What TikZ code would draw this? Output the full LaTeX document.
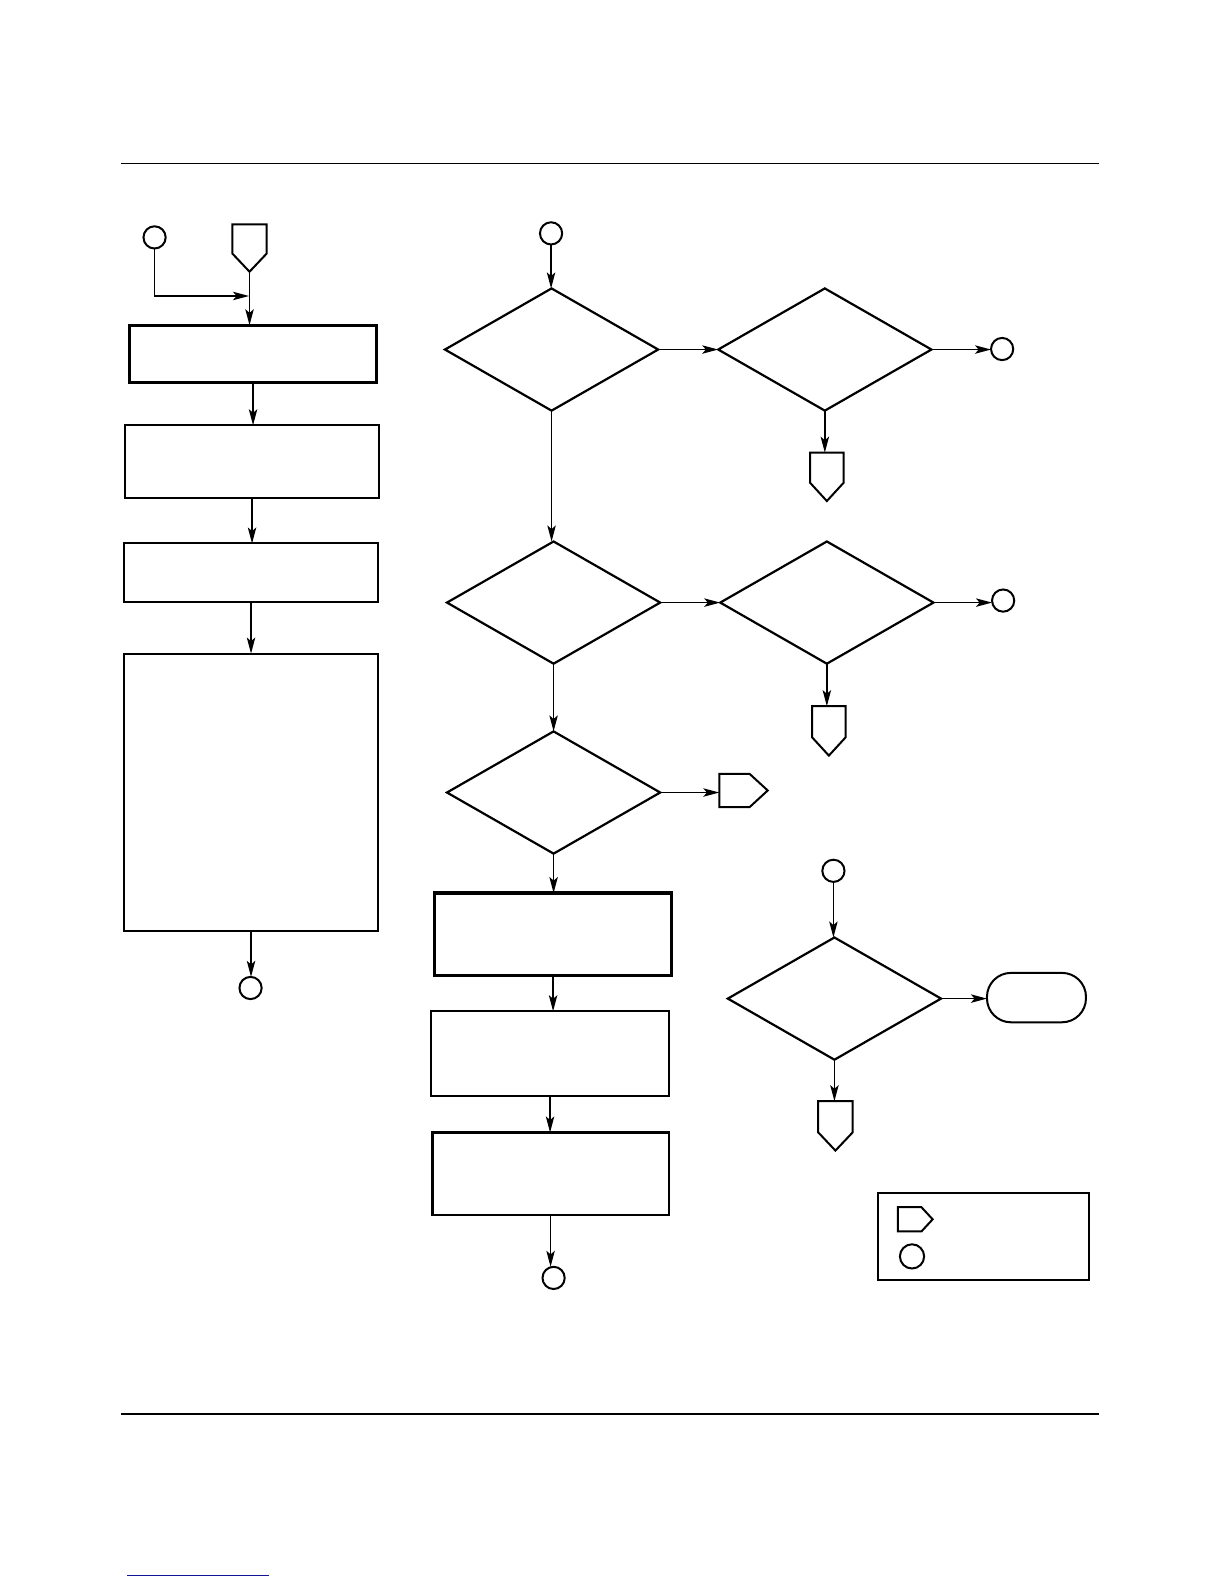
\documentclass[tikz,border=0pt]{standalone}
\usetikzlibrary{shapes.geometric,arrows.meta,calc}
\tikzset{
  x=0.505pt,y=-0.505pt,
  conn/.style={line width=0.75pt,-{Stealth[length=8pt,width=4.2pt,inset=1.8pt]}},
  plain/.style={line width=0.75pt},
  boxa/.style={draw,rectangle,line width=1pt,inner sep=0pt,outer sep=0pt},
  boxthick/.style={boxa,line width=1.6pt},
  dia/.style={draw,diamond,line width=1.1pt,inner sep=0pt,outer sep=0pt,minimum width=106.6pt,minimum height=61.1pt},
  conncirc/.style={draw,circle,line width=1pt,inner sep=0pt,outer sep=0pt,minimum size=11.1pt},
  ghost/.style={rectangle,draw=none,inner sep=0pt,outer sep=0pt},
  shp/.style={line width=1pt,line join=miter},
  term/.style={draw,rectangle,rounded corners=12pt,line width=1pt,inner sep=0pt,outer sep=0pt},
}
\newcommand{\offpagedown}[2]{\draw[shp] (#1.north west) -- (#1.north east) -- ([yshift=#2]#1.south east) -- (#1.south) -- ([yshift=#2]#1.south west) -- cycle;}
\newcommand{\offpageright}[2]{\draw[shp] (#1.north west) -- ([xshift=-#2]#1.north east) -- (#1.east) -- ([xshift=-#2]#1.south east) -- (#1.south west) -- cycle;}
\begin{document}
\begin{tikzpicture}
\useasboundingbox (0,0) rectangle (1212,1568);
% page rules
\coordinate (rt1) at (120,162); \coordinate (rt2) at (1088,162);
\draw[line width=0.6pt] (rt1) -- (rt2);
\coordinate (rb1) at (120,1400); \coordinate (rb2) at (1088,1400);
\draw[line width=1pt] (rb1) -- (rb2);
\definecolor{linkblue}{RGB}{20,20,150}
\coordinate (bl1) at (126,1559.6); \coordinate (bl2) at (266.5,1559.6);
\draw[linkblue,line width=0.6pt] (bl1) -- (bl2);

% left column
\node[conncirc] (cA) at (153,235) {};
\node[ghost,minimum width=17.2pt,minimum height=23.7pt] (pA) at (247,245.5) {};
\offpagedown{pA}{9.1pt}
\coordinate (j1) at (246.5,293);
\node[boxthick,minimum width=123.7pt,minimum height=28.8pt] (b1) at (250.5,350.5) {};
\node[boxa,minimum width=126.8pt,minimum height=36.4pt] (b2) at (249.5,457) {};
\node[boxa,minimum width=126.8pt,minimum height=29.3pt] (b3) at (248.5,567) {};
\node[boxa,minimum width=126.8pt,minimum height=138.9pt] (b4) at (248.5,784.5) {};
\node[conncirc] (cB) at (248,978) {};
\draw[conn] (cA.south) |- (j1);
\draw[conn] (pA.south) -- (pA.south |- b1.north);
\draw[conn] (b1.south) -- (b1.south |- b2.north);
\draw[conn] (b2.south) -- (b2.south |- b3.north);
\draw[conn] (b3.south) -- (b3.south |- b4.north);
\draw[conn] (b4.south) -- (b4.south |- cB.north);

% middle column
\node[conncirc] (cC) at (545.5,231) {};
\node[dia] (d1) at (546,346) {};
\node[dia] (d2) at (816.5,346) {};
\node[conncirc] (cD) at (992,345.5) {};
\node[ghost,minimum width=16.7pt,minimum height=24.2pt] (pB) at (818.5,472) {};
\offpagedown{pB}{9.1pt}
\node[dia] (d3) at (548,596.5) {};
\node[dia] (d4) at (818.5,596.5) {};
\node[conncirc] (cE) at (993,594.5) {};
\node[ghost,minimum width=16.7pt,minimum height=24.7pt] (pC) at (820.5,723.5) {};
\offpagedown{pC}{9.1pt}
\node[dia] (d5) at (548,784.5) {};
\node[ghost,minimum width=24.2pt,minimum height=16.7pt] (pR) at (736,782.5) {};
\offpageright{pR}{9.1pt}
\node[boxthick,minimum width=118.7pt,minimum height=41.4pt] (b5) at (547.5,925) {};
\node[boxa,minimum width=118.7pt,minimum height=42.4pt] (b6) at (544.5,1043) {};
\node[boxa,line width=1.2pt,minimum width=118.2pt,minimum height=41.4pt] (b7) at (545,1162) {};
\node[conncirc] (cF) at (548,1265) {};
\draw[conn] (cC.south) -- (cC.south |- d1.north);
\draw[conn] (d1.east) -- (d2.west);
\draw[conn] (d2.east) -- (d2.east -| cD.west);
\draw[conn] (d2.south) -- (d2.south |- pB.north);
\draw[conn] (d1.south) -- (d1.south |- d3.north);
\draw[conn] (d3.east) -- (d4.west);
\draw[conn] (d4.east) -- (d4.east -| cE.west);
\draw[conn] (d4.south) -- (d4.south |- pC.north);
\draw[conn] (d3.south) -- (d5.north);
\draw[conn] (d5.east) -- (d5.east -| pR.west);
\draw[conn] (d5.south) -- (d5.south |- b5.north);
\draw[conn] (b5.south) -- (b5.south |- b6.north);
\draw[conn] (b6.south) -- (b6.south |- b7.north);
\draw[conn] (b7.south) -- (b7.south |- cF.north);

% right lower
\node[conncirc] (cG) at (825,862) {};
\node[dia] (d6) at (826,988.5) {};
\node[term,minimum width=49.5pt,minimum height=24.7pt] (t1) at (1026,987.5) {};
\node[ghost,minimum width=17.2pt,minimum height=24.7pt] (pD) at (827,1114.5) {};
\offpagedown{pD}{9.1pt}
\draw[conn] (cG.south) -- (cG.south |- d6.north);
\draw[conn] (d6.east) -- (d6.east -| t1.west);
\draw[conn] (d6.south) -- (d6.south |- pD.north);

% legend
\node[boxa,minimum width=105.5pt,minimum height=43.4pt] (lg) at (973.5,1224) {};
\node[ghost,minimum width=17.4pt,minimum height=12.1pt] (lp) at (906,1207) {};
\offpageright{lp}{5.6pt}
\node[conncirc,minimum size=12.1pt] (lc) at (902.8,1243.7) {};
\end{tikzpicture}
\end{document}
